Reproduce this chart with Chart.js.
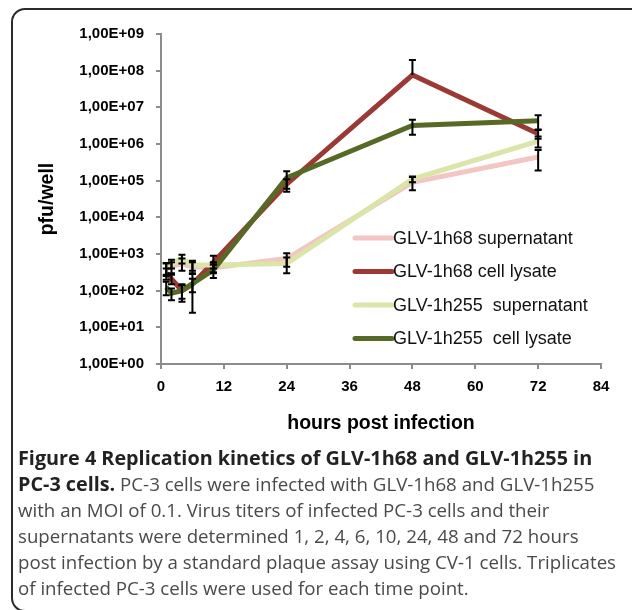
<!DOCTYPE html>
<html lang="en">
<head>
<meta charset="UTF-8">
<title>Figure 4</title>
<script src="https://cdn.jsdelivr.net/npm/chart.js"></script>
<style>
  html, body { margin: 0; padding: 0; background: #fff; }
  body { width: 632px; height: 610px; overflow: hidden; position: relative; }
  .frame { position: absolute; left: 11px; top: 8px; width: 660px; height: 604px;
           border: 2px solid #2b2b2b; border-radius: 14px; box-sizing: border-box; }
  #plot { position: absolute; left: 0; top: 0; }
  .caption { position: absolute; left: 18px; top: 445px; font-family: "Open Sans", sans-serif;
             font-size: 18.7px; line-height: 26px; color: #4a4a4a; white-space: nowrap; }
  .caption b { color: #222; font-weight: 700; font-size: 19.8px; }
</style>
</head>
<body>
<div class="frame"></div>
<canvas id="plot" width="632" height="445"></canvas>
<div class="caption">
  <b>Figure 4 Replication kinetics of GLV-1h68 and GLV-1h255 in</b><br>
  <b>PC-3 cells.</b> PC-3 cells were infected with GLV-1h68 and GLV-1h255<br>
  with an MOI of 0.1. Virus titers of infected PC-3 cells and their<br>
  supernatants were determined 1, 2, 4, 6, 10, 24, 48 and 72 hours<br>
  post infection by a standard plaque assay using CV-1 cells. Triplicates<br>
  of infected PC-3 cells were used for each time point.
</div>
<script>
  // time points (hours post infection)
  const hours = [1, 2, 4, 6, 10, 24, 48, 72];

  // titers (pfu/well) and error (+/-) per series
  const h68Sup = [400, 450, 550, 450, 420, 750, 90000, 440000];
  const h68SupErr = [150, 150, 200, 150, 100, 300, 35000, 250000];
  const h68Lys = [300, 210, 100, 150, 600, 80000, 76000000, 1900000];
  const h68LysErr = [100, 60, 50, 60, 300, 30000, 120000000, 500000];
  const h255Sup = [420, 550, 750, 500, 500, 550, 110000, 1200000];
  const h255SupErr = [150, 150, 200, 150, 100, 250, 20000, 400000];
  const h255Lys = [125, 85, 100, 155, 370, 120000, 3200000, 4300000];
  const h255LysErr = [50, 30, 40, 130, 150, 60000, 1400000, 1800000];

  const seriesNames = ['GLV-1h68 supernatant', 'GLV-1h68 cell lysate',
                       'GLV-1h255  supernatant', 'GLV-1h255  cell lysate'];
  const seriesColors = ['#F3C5C3', '#9B3A34', '#DAE5A7', '#566A26'];

  const xTicks = [0, 12, 24, 36, 48, 60, 72, 84];
  const yTickValues = [1, 10, 100, 1e3, 1e4, 1e5, 1e6, 1e7, 1e8, 1e9];
  const yTickLabels = ['1,00E+00', '1,00E+01', '1,00E+02', '1,00E+03', '1,00E+04',
                       '1,00E+05', '1,00E+06', '1,00E+07', '1,00E+08', '1,00E+09'];

  const axisGray = '#8c8c8c';
  const tickFont = { family: 'Liberation Sans', size: 15, weight: 'bold' };
  const titleFont = { family: 'Liberation Sans', size: 19.5, weight: 'bold' };

  function makeSet(i, vals, errs, order) {
    return {
      label: seriesNames[i],
      data: hours.map((h, k) => ({ x: h, y: vals[k] })),
      err: errs,
      borderColor: seriesColors[i],
      borderWidth: 5,
      pointRadius: 0,
      tension: 0,
      fill: false,
      order: order
    };
  }

  // black I-shaped error bars, lower part dropped when it goes below zero
  const errorBars = {
    id: 'errorBars',
    afterDatasetsDraw(chart) {
      const { ctx } = chart;
      const xs = chart.scales.x, ys = chart.scales.y;
      ctx.save();
      ctx.strokeStyle = '#000';
      ctx.lineWidth = 2;
      chart.data.datasets.forEach(ds => {
        ds.data.forEach((p, i) => {
          const e = ds.err[i];
          const px = xs.getPixelForValue(p.x);
          const top = ys.getPixelForValue(p.y + e);
          const lo = p.y - e;
          const bot = ys.getPixelForValue(lo > 0 ? lo : p.y);
          ctx.beginPath();
          ctx.moveTo(px, top); ctx.lineTo(px, bot);
          ctx.moveTo(px - 3.5, top); ctx.lineTo(px + 3.5, top);
          if (lo > 0) { ctx.moveTo(px - 3.5, bot); ctx.lineTo(px + 3.5, bot); }
          ctx.stroke();
        });
      });
      ctx.restore();
    }
  };

  // legend inside the plot, right side
  const sideLegend = {
    id: 'sideLegend',
    afterDraw(chart) {
      const { ctx } = chart;
      ctx.save();
      ctx.font = '18px "Liberation Sans"';
      ctx.textBaseline = 'middle';
      ctx.fillStyle = '#111';
      chart.data.datasets.forEach((ds, i) => {
        const y = 238 + i * 33.5;
        ctx.strokeStyle = ds.borderColor;
        ctx.lineWidth = 5;
        ctx.lineCap = 'round';
        ctx.beginPath();
        ctx.moveTo(355, y); ctx.lineTo(392, y);
        ctx.stroke();
        ctx.fillText(ds.label, 393, y + 1);
      });
      ctx.restore();
    }
  };

  new Chart(document.getElementById('plot'), {
    type: 'line',
    data: {
      datasets: [
        makeSet(0, h68Sup, h68SupErr, 4),
        makeSet(1, h68Lys, h68LysErr, 3),
        makeSet(2, h255Sup, h255SupErr, 2),
        makeSet(3, h255Lys, h255LysErr, 1)
      ]
    },
    options: {
      responsive: false,
      animation: false,
      layout: { padding: { top: 34, right: 31, left: 0, bottom: 0 } },
      plugins: { legend: { display: false }, tooltip: { enabled: false } },
      scales: {
        x: {
          type: 'linear',
          min: 0, max: 84,
          afterBuildTicks: s => { s.ticks = xTicks.map(v => ({ value: v })); },
          afterFit: s => { s.height = 445 - 364; },
          ticks: { font: tickFont, color: '#000', padding: 9, maxRotation: 0 },
          grid: { drawOnChartArea: false, tickLength: 5, color: axisGray, lineWidth: 2 },
          border: { color: axisGray, width: 2 },
          title: { display: true, text: 'hours post infection', font: titleFont, color: '#000',
                   padding: { top: 0, bottom: 10 } }
        },
        y: {
          type: 'logarithmic',
          min: 1, max: 1e9,
          afterBuildTicks: s => { s.ticks = yTickValues.map(v => ({ value: v })); },
          afterFit: s => { s.width = 161; },
          ticks: {
            font: tickFont, color: '#000', padding: 12, autoSkip: false,
            callback: v => yTickLabels[yTickValues.indexOf(v)]
          },
          grid: { drawOnChartArea: false, tickLength: 5, color: axisGray, lineWidth: 2 },
          border: { color: axisGray, width: 2 },
          title: { display: true, text: 'pfu/well', font: titleFont, color: '#000',
                   padding: { top: 36, bottom: 0 } }
        }
      }
    },
    plugins: [errorBars, sideLegend]
  });
</script>
</body>
</html>
